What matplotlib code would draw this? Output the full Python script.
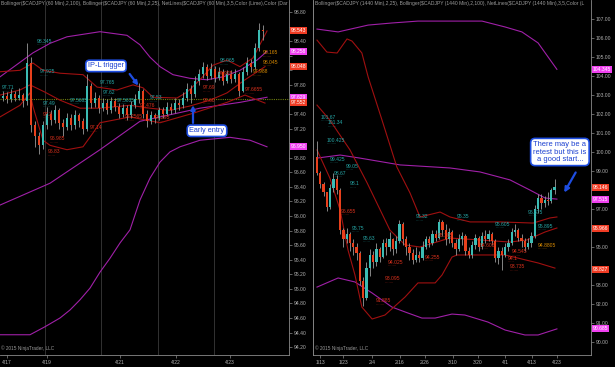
import matplotlib
matplotlib.use("Agg")
import matplotlib.pyplot as plt
import numpy as np
from matplotlib.ticker import FuncFormatter

plt.rcParams['font.family'] = ['Liberation Sans', 'DejaVu Sans']

# ---- left panel: CADJPY 60 min ----
left_first_open = 97.62
left_close = [97.65, 97.60, 97.68, 97.62, 97.66, 97.58, 98.10, 97.25, 97.10, 96.98,
              97.25, 97.40, 97.32, 97.45, 97.28, 97.22, 97.35, 97.25, 97.38, 97.30,
              97.20, 97.78, 97.55, 97.62, 97.48, 97.55, 97.45, 97.58, 97.50, 97.40,
              97.48, 97.38, 97.52, 97.60, 97.72, 97.40, 97.30, 97.38, 97.35, 97.45,
              97.40, 97.50, 97.45, 97.55, 97.52, 97.62, 97.75, 97.68, 97.85, 97.95,
              98.05, 97.92, 98.02, 97.90, 97.98, 97.85, 97.95, 97.88, 97.95, 97.72,
              97.98, 98.10, 98.05, 98.30, 98.55, 98.54]
left_high = [97.72, 97.70, 97.74, 97.72, 97.76, 97.69, 98.38, 98.18, 97.30, 97.15,
             97.30, 97.50, 97.46, 97.52, 97.48, 97.33, 97.42, 97.40, 97.45, 97.42,
             97.34, 97.95, 97.82, 97.70, 97.66, 97.62, 97.60, 97.64, 97.62, 97.55,
             97.54, 97.52, 97.58, 97.68, 97.82, 97.75, 97.45, 97.44, 97.42, 97.50,
             97.50, 97.56, 97.55, 97.62, 97.60, 97.70, 97.82, 97.80, 97.92, 98.02,
             98.12, 98.08, 98.10, 98.06, 98.05, 98.02, 98.00, 98.00, 98.02, 97.98,
             98.04, 98.18, 98.15, 98.38, 98.65, 98.62]
left_low = [97.58, 97.55, 97.57, 97.58, 97.59, 97.50, 97.52, 97.15, 96.95, 96.85,
            96.92, 97.20, 97.25, 97.28, 97.20, 97.10, 97.18, 97.18, 97.20, 97.22,
            97.12, 97.16, 97.48, 97.50, 97.42, 97.44, 97.40, 97.42, 97.44, 97.34,
            97.36, 97.32, 97.35, 97.48, 97.55, 97.35, 97.22, 97.26, 97.28, 97.32,
            97.35, 97.37, 97.40, 97.42, 97.46, 97.48, 97.58, 97.55, 97.64, 97.80,
            97.90, 97.86, 97.88, 97.84, 97.86, 97.80, 97.82, 97.82, 97.84, 97.65,
            97.70, 97.94, 97.98, 98.02, 98.26, 98.42]

# bollinger (2,100) purple, bollinger (2,25) dark red  -- bar index, price
l_bb100_up_x = [-0.75, 7.5, 11.75, 16, 24.25, 31, 34.25, 36.75, 39.25, 42.5, 46.75, 51, 55, 59.25, 63.5, 66]
l_bb100_up = [97.91, 98.24, 98.37, 98.46, 98.53, 98.48, 98.35, 98.18, 98.05, 97.94, 97.89, 97.87, 97.91, 98.00, 98.14, 98.26]
l_bb100_mid_x = [-0.75, 11.75, 24.25, 34.25, 39.25, 49.25, 59.25, 66]
l_bb100_mid = [96.15, 96.45, 96.91, 97.30, 97.36, 97.48, 97.56, 97.63]
l_bb100_lo_x = [-0.75, 6.75, 10.5, 14.25, 16.75, 19.25, 21.75, 24.25, 26.75, 29.25, 31.75,
                34.25, 36.75, 39.25, 41.75, 44.25, 49.25, 56.75, 61.75, 66]
l_bb100_lo = [94.37, 94.37, 94.48, 94.60, 94.71, 94.85, 95.01, 95.23, 95.42, 95.63, 95.81,
              96.22, 96.52, 96.74, 96.88, 96.95, 97.04, 97.08, 97.04, 96.95]
l_bb25_up_x = [-0.75, 4.25, 7.5, 10, 14.25, 20, 23.5, 28.5, 32.5, 35, 37.5, 43.5, 46, 49.25, 52.5, 56, 59.25, 62.5, 66]
l_bb25_up = [97.98, 98.00, 98.10, 98.00, 97.96, 97.94, 97.77, 97.73, 97.80, 97.76, 97.63, 97.62, 97.70, 97.87, 98.07, 98.14, 98.05, 98.17, 98.54]
l_bb25_mid_x = [-0.75, 4.25, 6.75, 10.5, 14.25, 19.25, 24.25, 31.75, 36.75, 41.75, 46.75, 51.75, 56, 60.5, 65.5]
l_bb25_mid = [97.66, 97.73, 97.80, 97.70, 97.59, 97.48, 97.48, 97.52, 97.48, 97.45, 97.51, 97.59, 97.69, 97.87, 98.05]
l_bb25_lo_x = [-0.75, 4.25, 6.75, 7.5, 10, 11.75, 16, 20, 22.5, 24.25, 31.75, 39.25, 47.5, 56, 60.5, 65.5]
l_bb25_lo = [97.36, 97.52, 97.69, 97.50, 97.04, 96.97, 96.91, 96.95, 97.14, 97.28, 97.36, 97.28, 97.41, 97.56, 97.66, 97.55]

l_hi_text = ['98.345', '97.925', '97.765', '97.62', '97.71', '97.49', '97.5685', '97.5635', '97.53', '98.065']
l_hi_bar = [8.5, 9.25, 24.25, 25, -0.25, 10, 16.75, 28.5, 36.75, 54.25]
l_hi_y = [98.40, 97.98, 97.83, 97.70, 97.76, 97.55, 97.59, 97.59, 97.62, 98.13]
l_lo_text = ['97.3', '97.14', '96.985', '96.83', '97.2565', '97.476', '97.295', '97.69', '97.60', '97.925', '97.6655']
l_lo_bar = [10, 21.75, 11.75, 11.25, 30.5, 34.25, 38, 50, 50, 53.75, 60.5]
l_lo_y = [97.40, 97.21, 97.06, 96.88, 97.36, 97.52, 97.35, 97.76, 97.59, 97.96, 97.73]
l_or_text = ['98.165', '98.045', '97.988']
l_or_bar = [65, 65, 62.5]
l_or_y = [98.24, 98.11, 97.98]

l_box_vals = [98.543, 98.258, 98.048, 97.629, 97.552, 96.950]
l_box_kind = ['last', 'bb100', 'bb25', 'bb100', 'bb25', 'bb100']
l_hidden_ticks = [98.60, 98.20, 98.00, 97.60, 97.00]
l_date_pos = [0.9, 11, 29.25, 43.25, 56.75]
l_date_lab = ['4/17', '4/19', '4/21', '4/22', '4/23']
l_sessions = [10.5, 24.5, 38.75, 52.75]
l_netline = 97.61

# ---- right panel: CADJPY daily ----
right_first_open = 99.75
right_close = [98.90, 98.30, 97.90, 97.10, 98.10, 98.60, 98.00, 95.90, 95.40, 95.70,
               95.20, 95.00, 94.70, 93.20, 92.30, 93.90, 94.60, 94.20, 94.90, 94.50,
               95.20, 95.00, 95.40, 94.90, 95.30, 96.20, 95.40, 95.00, 94.70, 94.30,
               94.60, 94.40, 95.00, 95.40, 95.20, 95.70, 95.50, 96.30, 95.90, 95.40,
               95.80, 95.20, 94.90, 95.40, 95.60, 94.80, 94.60, 95.10, 95.50, 95.00,
               95.60, 95.40, 95.70, 95.30, 94.40, 94.80, 94.60, 95.00, 95.20, 95.80,
               95.90, 95.50, 95.30, 95.00, 95.20, 95.60, 97.00, 97.60, 97.30, 97.50,
               97.40, 98.00, 98.15]
right_high = [100.60, 99.00, 98.40, 97.90, 98.30, 98.90, 98.80, 98.10, 96.00, 96.00,
              95.80, 95.40, 95.20, 94.80, 93.40, 94.20, 94.90, 94.80, 95.20, 95.00,
              95.40, 95.50, 95.80, 95.50, 95.60, 96.40, 96.30, 95.60, 95.20, 94.90,
              95.00, 94.80, 95.30, 95.60, 95.60, 95.90, 95.90, 96.50, 96.40, 96.20,
              96.00, 95.90, 95.40, 95.70, 95.80, 95.70, 95.00, 95.30, 95.70, 95.60,
              95.80, 95.90, 95.90, 95.80, 95.40, 95.00, 95.00, 95.20, 95.40, 96.00,
              96.20, 96.00, 95.70, 95.50, 95.50, 95.80, 97.20, 97.80, 97.80, 97.70,
              97.90, 98.10, 98.60]
right_low = [98.80, 98.10, 97.70, 96.90, 97.00, 97.90, 97.80, 95.70, 95.00, 95.20,
             94.80, 94.60, 94.30, 93.00, 91.90, 92.20, 93.50, 93.90, 94.00, 94.20,
             94.40, 94.60, 94.80, 94.60, 94.70, 95.20, 95.10, 94.60, 94.30, 94.10,
             94.20, 94.20, 94.30, 94.90, 95.00, 95.10, 95.30, 95.40, 95.60, 95.10,
             95.20, 95.00, 94.60, 94.80, 95.10, 94.60, 94.40, 94.40, 94.90, 94.80,
             94.90, 95.20, 95.30, 95.10, 94.20, 94.10, 93.80, 94.50, 94.80, 95.10,
             95.60, 95.30, 95.00, 94.80, 94.90, 95.00, 95.50, 96.80, 97.00, 97.10,
             97.20, 97.30, 97.80]

r_bb100_up_x = [0, 6.4, 15.5, 22.7, 30.6, 39.7, 50, 57, 62.1, 67, 72.7]
r_bb100_up = [106.47, 106.32, 106.68, 106.79, 106.89, 106.89, 106.89, 106.58, 106.32, 105.74, 104.35]
r_bb100_mid_x = [0, 7, 13, 25.2, 40.3, 49.4, 58.5, 64.5, 69.1, 72.7]
r_bb100_mid = [99.68, 99.84, 99.68, 99.32, 99.16, 98.95, 98.53, 98.00, 97.58, 97.52]
r_bb100_lo_x = [0, 6.4, 11.5, 16.7, 22.7, 26.7, 31.8, 35.8, 40.9, 44.8, 51.8, 57, 63, 67, 72.7]
r_bb100_lo = [92.89, 93.37, 93.16, 92.58, 91.84, 91.58, 91.26, 91.26, 91.47, 91.42, 91.05, 90.63, 90.37, 90.37, 90.69]
r_bb25_up_x = [0, 3, 6.1, 9.1, 10.6, 13.6, 15.5, 19.7, 24.2, 28.2, 31.2, 37.3, 40.3, 46.4, 55.5, 65.5, 70.6, 72.7]
r_bb25_up = [105.89, 105.26, 105.21, 105.95, 105.84, 105.21, 103.95, 101.68, 99.21, 97.84, 96.58, 96.84, 96.58,
             96.32, 96.32, 96.26, 96.53, 96.58]
r_bb25_mid_x = [0, 3.9, 10, 15.2, 22.1, 26.7, 31.2, 40.3, 49.4, 58.5, 63.6, 69.1, 72.7]
r_bb25_mid = [102.47, 101.68, 100.11, 98.37, 95.89, 95.11, 95.00, 95.47, 95.37, 95.26, 95.37, 95.79, 96.00]
r_bb25_lo_x = [0, 3.9, 7, 9.4, 11.5, 13.6, 16.7, 20.6, 26.7, 30.6, 35.8, 37.9, 40.9, 42.4, 57, 67, 72.1]
r_bb25_lo = [100.11, 98.63, 96.95, 94.84, 93.53, 91.84, 91.21, 91.42, 92.37, 93.11, 93.11, 93.53, 94.47,
             94.58, 94.58, 94.16, 93.89]

r_hi_text = ['101.67', '101.34', '100.425', '99.425', '99.05', '98.67', '98.1', '95.75', '95.63',
             '95.32', '95.35', '95.605', '96.875', '95.895']
r_hi_bar = [1.2, 3.3, 3.0, 3.9, 8.8, 5.2, 10, 10.6, 13.9, 30, 42.4, 54, 64, 67]
r_hi_y = [101.84, 101.53, 100.63, 99.63, 99.26, 98.89, 98.32, 96.0, 95.47, 96.58, 96.58, 96.21, 96.84, 96.1]
r_lo_text = ['96.655', '94.025', '93.095', '91.885', '94.255', '94.605', '95.105', '94.545', '94.1', '93.735']
r_lo_bar = [7.3, 21.5, 20.6, 17.9, 32.7, 49.4, 36.7, 59, 57.9, 58.5]
r_lo_y = [96.89, 94.21, 93.32, 92.16, 94.47, 95.1, 95.58, 94.74, 94.42, 93.95]
r_or_text = ['94.8805']
r_or_bar = [67]
r_or_y = [95.1]

r_box_vals = [104.345, 98.146, 97.515, 95.966, 93.827, 90.685]
r_box_kind = ['bb100', 'last', 'bb100', 'bb25', 'bb25', 'bb100']
r_hidden_ticks = [98.0, 96.0, 94.0]
r_date_pos = [0.91, 7.88, 16.67, 25.15, 32.73, 41.21, 48.79, 56.97, 65.15, 72.73]
r_date_lab = ['1/13', '1/23', '2/4', '2/16', '2/26', '3/10', '3/20', '4/1', '4/13', '4/23']

UP = '#3cbcb4'
DOWN = '#e8401c'
WICK = '#9a9a9a'
C100 = '#a020a8'
C25 = '#a01010'
CYAN_T = '#26a6a6'
RED_T = '#d8301c'
ORANGE_T = '#d88a00'
ARROW = '#1e4de0'
BOXC = {'last': '#f03c24', 'bb25': '#f03c24', 'bb100': '#f040f0'}


def candles(ax, first_open, closes, highs, lows, width, min_h):
    c = np.array(closes)
    o = np.concatenate([[first_open], c[:-1]])
    x = np.arange(len(c))
    ax.vlines(x, lows, highs, color=WICK, lw=0.6, zorder=3)
    bottom = np.minimum(o, c)
    h = np.maximum(np.abs(c - o), min_h)
    cols = [UP if cc >= oo else DOWN for oo, cc in zip(o, c)]
    ax.bar(x, h, width, bottom, color=cols, lw=0, zorder=4)


def style(ax, yticks, hidden):
    ax.set_facecolor('black')
    for s in ['top', 'left']:
        ax.spines[s].set_visible(False)
    for s in ['right', 'bottom']:
        ax.spines[s].set_color('#8a8a8a')
        ax.spines[s].set_linewidth(0.6)
    ax.yaxis.tick_right()
    ax.set_yticks(yticks)
    # ticks that sit behind a price box are covered in the original
    fmt = lambda v, pos: '' if any(abs(v - h) < 1e-6 for h in hidden) else '%.2f' % v
    ax.yaxis.set_major_formatter(FuncFormatter(fmt))
    ax.tick_params(axis='y', colors='#8a8a8a', labelcolor='#b0b0b0', labelsize=3.6,
                   length=2.5, width=0.5, pad=1)
    ax.tick_params(axis='x', colors='#8a8a8a', labelcolor='#b0b0b0', labelsize=3.6,
                   length=2, width=0.5, pad=1.5)


def labels(ax, bars, ys, texts, color):
    for b, y, t in zip(bars, ys, texts):
        ax.text(b, y, t, color=color, fontsize=3.6, ha='left', va='center', zorder=5)
        # dotted underline under each swing label
        ax.annotate('.' * (len(t) + 2), xy=(b, y), xytext=(0, -2.2), textcoords='offset points',
                    color=color, fontsize=3.0, ha='left', va='center', zorder=5)


def boxes(ax, vals, kinds):
    for v, k in zip(vals, kinds):
        ax.annotate('%.3f' % v, xy=(1, v), xycoords=('axes fraction', 'data'),
                    xytext=(1.2, 0), textcoords='offset points', ha='left', va='center',
                    fontsize=3.6, color='white', annotation_clip=False, zorder=10,
                    bbox=dict(boxstyle='square,pad=0.2', fc=BOXC[k], ec='none'))


fig = plt.figure(figsize=(6.15, 3.67), dpi=100, facecolor='black')
axl = fig.add_axes([0, 12 / 367, 289 / 615, 355 / 367])
axr = fig.add_axes([313 / 615, 12 / 367, 278 / 615, 355 / 367])

# left panel
style(axl, np.round(np.arange(94.2, 98.81, 0.2), 2), l_hidden_ticks)
for s in l_sessions:
    axl.axvline(s, color='#3a3a3a', lw=0.6, zorder=1)
axl.axhline(l_netline, color='#6c7c10', lw=0.8, ls=(0, (1, 1)), zorder=2)
axl.plot(l_bb100_up_x, l_bb100_up, color=C100, lw=0.8, zorder=2)
axl.plot(l_bb100_mid_x, l_bb100_mid, color=C100, lw=0.8, zorder=2)
axl.plot(l_bb100_lo_x, l_bb100_lo, color=C100, lw=0.8, zorder=2)
axl.plot(l_bb25_up_x, l_bb25_up, color=C25, lw=0.8, zorder=2)
axl.plot(l_bb25_mid_x, l_bb25_mid, color=C25, lw=0.8, zorder=2)
axl.plot(l_bb25_lo_x, l_bb25_lo, color=C25, lw=0.8, zorder=2)
candles(axl, left_first_open, left_close, left_high, left_low, 0.5, 0.01)
labels(axl, l_hi_bar, l_hi_y, l_hi_text, CYAN_T)
labels(axl, l_lo_bar, l_lo_y, l_lo_text, RED_T)
labels(axl, l_or_bar, l_or_y, l_or_text, ORANGE_T)
boxes(axl, l_box_vals, l_box_kind)
axl.set_xlim(-0.75, 71.5)
axl.set_ylim(94.092, 98.965)
axl.set_xticks(l_date_pos)
axl.set_xticklabels(l_date_lab)
axl.text(0.004, 0.997, 'Bollinger($CADJPY (60 Min),2,100), Bollinger($CADJPY (60 Min),2,25), '
         'NetLines($CADJPY (60 Min),3,5,Color (Lime),Color (Dar', transform=axl.transAxes,
         fontsize=3.6, color='#9a9a9a', ha='left', va='top', clip_on=True)
axl.text(0.004, 0.012, '\u00a9 2015 NinjaTrader, LLC', transform=axl.transAxes,
         fontsize=3.4, color='#9a9a9a', ha='left', va='bottom')

bb = dict(boxstyle='round,pad=0.3,rounding_size=0.5', fc='white', ec=ARROW, lw=1.2)
axl.annotate('', xy=(34.25, 97.76), xytext=(31.25, 97.98),
             arrowprops=dict(arrowstyle='-|>', color=ARROW, lw=1.6, mutation_scale=6), zorder=8)
axl.text(25.75, 98.06, 'IP-L trigger', ha='center', va='center', fontsize=5.3,
         color='#1a3fd0', bbox=bb, zorder=9)
axl.annotate('', xy=(47.5, 97.56), xytext=(47.5, 97.24),
             arrowprops=dict(arrowstyle='-|>', color=ARROW, lw=1.6, mutation_scale=6), zorder=8)
axl.text(51, 97.17, 'Early entry', ha='center', va='center', fontsize=5.3,
         color='#1a3fd0', bbox=bb, zorder=9)

# right panel
style(axr, np.arange(90, 108, 1), r_hidden_ticks)
axr.spines['left'].set_visible(True)
axr.spines['left'].set_color('#9a9a9a')
axr.spines['left'].set_linewidth(0.6)
axr.plot(r_bb100_up_x, r_bb100_up, color=C100, lw=0.8, zorder=2)
axr.plot(r_bb100_mid_x, r_bb100_mid, color=C100, lw=0.8, zorder=2)
axr.plot(r_bb100_lo_x, r_bb100_lo, color=C100, lw=0.8, zorder=2)
axr.plot(r_bb25_up_x, r_bb25_up, color=C25, lw=0.8, zorder=2)
axr.plot(r_bb25_mid_x, r_bb25_mid, color=C25, lw=0.8, zorder=2)
axr.plot(r_bb25_lo_x, r_bb25_lo, color=C25, lw=0.8, zorder=2)
candles(axr, right_first_open, right_close, right_high, right_low, 0.7, 0.04)
labels(axr, r_hi_bar, r_hi_y, r_hi_text, CYAN_T)
labels(axr, r_lo_bar, r_lo_y, r_lo_text, RED_T)
labels(axr, r_or_bar, r_or_y, r_or_text, ORANGE_T)
boxes(axr, r_box_vals, r_box_kind)
axr.set_xlim(-1.21, 83.03)
axr.set_ylim(89.316, 108.0)
axr.set_xticks(r_date_pos)
axr.set_xticklabels(r_date_lab)
axr.text(0.006, 0.997, 'Bollinger($CADJPY (1440 Min),2,25), Bollinger($CADJPY (1440 Min),2,100), '
         'NetLines($CADJPY (1440 Min),3,5,Color (L', transform=axr.transAxes,
         fontsize=3.6, color='#9a9a9a', ha='left', va='top', clip_on=True)
axr.text(0.006, 0.012, '\u00a9 2015 NinjaTrader, LLC', transform=axr.transAxes,
         fontsize=3.4, color='#9a9a9a', ha='left', va='bottom')
axr.annotate('', xy=(74.5, 97.74), xytext=(78.8, 99.05),
             arrowprops=dict(arrowstyle='-|>', color=ARROW, lw=1.6, mutation_scale=7),
             annotation_clip=False, zorder=8)
axr.text(73.6, 100.0, 'There may be a\nretest but this is\na good start...', ha='center',
         va='center', fontsize=5.4, color='#1a3fd0', linespacing=1.1, clip_on=False,
         bbox=dict(boxstyle='round,pad=0.35,rounding_size=0.6', fc='white', ec=ARROW, lw=1.2),
         zorder=9)

fig.savefig('out.png', dpi=100, facecolor='black')
